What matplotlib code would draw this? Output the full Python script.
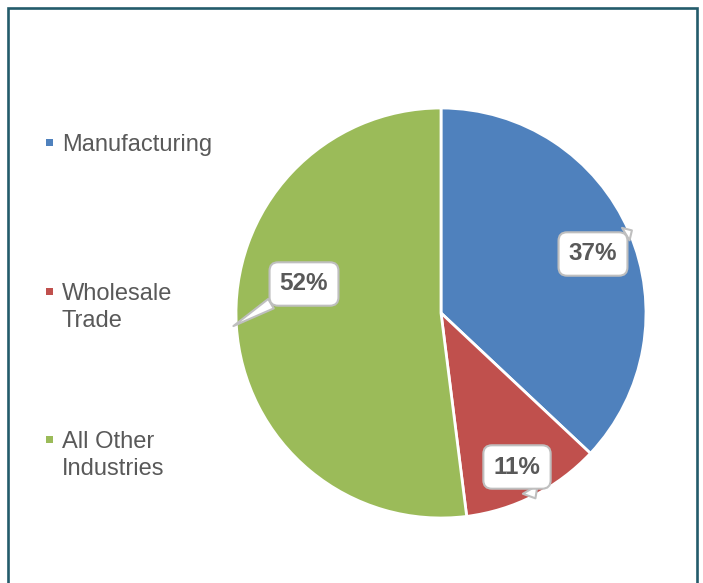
import numpy as np
import matplotlib.pyplot as plt
from matplotlib.patches import Rectangle

plt.rcParams['font.family'] = ['Liberation Sans', 'DejaVu Sans']

# ---------- data ----------
industries = ["Manufacturing", "Wholesale\nTrade", "All Other\nIndustries"]
shares = [37, 11, 52]
pct_labels = ["37%", "11%", "52%"]
colors = ["#4F81BD", "#C0504D", "#9BBB59"]

TEXT = "#595959"
W, H = 703, 583
LINE_GAP = 27  # px between legend text lines

fig = plt.figure(figsize=(W / 100, H / 100), dpi=100)
ax = fig.add_axes([0, 0, 1, 1])

# pie in pixel-like data units (y up)
cx, cy, r = 441, H - 313, 205
wedges, _ = ax.pie(shares, colors=colors, startangle=90, counterclock=False,
                   center=(cx, cy), radius=r,
                   wedgeprops=dict(edgecolor="white", linewidth=2.0))
ax.set_xlim(0, W)
ax.set_ylim(0, H)
ax.set_aspect("equal")
ax.axis("off")

# callout boxes: pointer tip on the rim at each slice's mid angle
label_offsets = [(152, 59), (76, -154), (-137, 29)]
tail_widths = [0.6, 0.7, 0.45]
for w, lab, (dx, dy), tw in zip(wedges, pct_labels, label_offsets, tail_widths):
    mid = np.deg2rad((w.theta1 + w.theta2) / 2)
    tip = (cx + (r + 3) * np.cos(mid), cy + (r + 3) * np.sin(mid))
    ax.annotate(lab, xy=tip, xytext=(cx + dx, cy + dy),
                ha="center", va="center", fontsize=17.5, fontweight="bold",
                color=TEXT,
                bbox=dict(boxstyle="round,pad=0.42,rounding_size=0.35",
                          fc="white", ec="#BFBFBF", lw=1.5),
                arrowprops=dict(arrowstyle=f"wedge,tail_width={tw},shrink_factor=0.5",
                                fc="white", ec="#BFBFBF", lw=1.5,
                                shrinkA=0, shrinkB=0))

# legend, each marker aligned with the first line of its label
legend_baselines = [151, 300, 448]
for name, col, base in zip(industries, colors, legend_baselines):
    n_lines = name.count("\n") + 1
    last_base = base + LINE_GAP * (n_lines - 1)
    ax.add_patch(Rectangle((46, H - base + 5), 7, 7, fc=col, ec="none"))
    ax.text(62, H - last_base, name, ha="left", va="baseline",
            fontsize=17, color=TEXT, linespacing=1.27)

# outer frame (open at the bottom edge of the image)
ax.add_patch(Rectangle((8, -20), 689, H - 8 + 20, fill=False,
                       ec="#235B6B", lw=1.9, clip_on=False))

fig.savefig("out.png", dpi=100)
